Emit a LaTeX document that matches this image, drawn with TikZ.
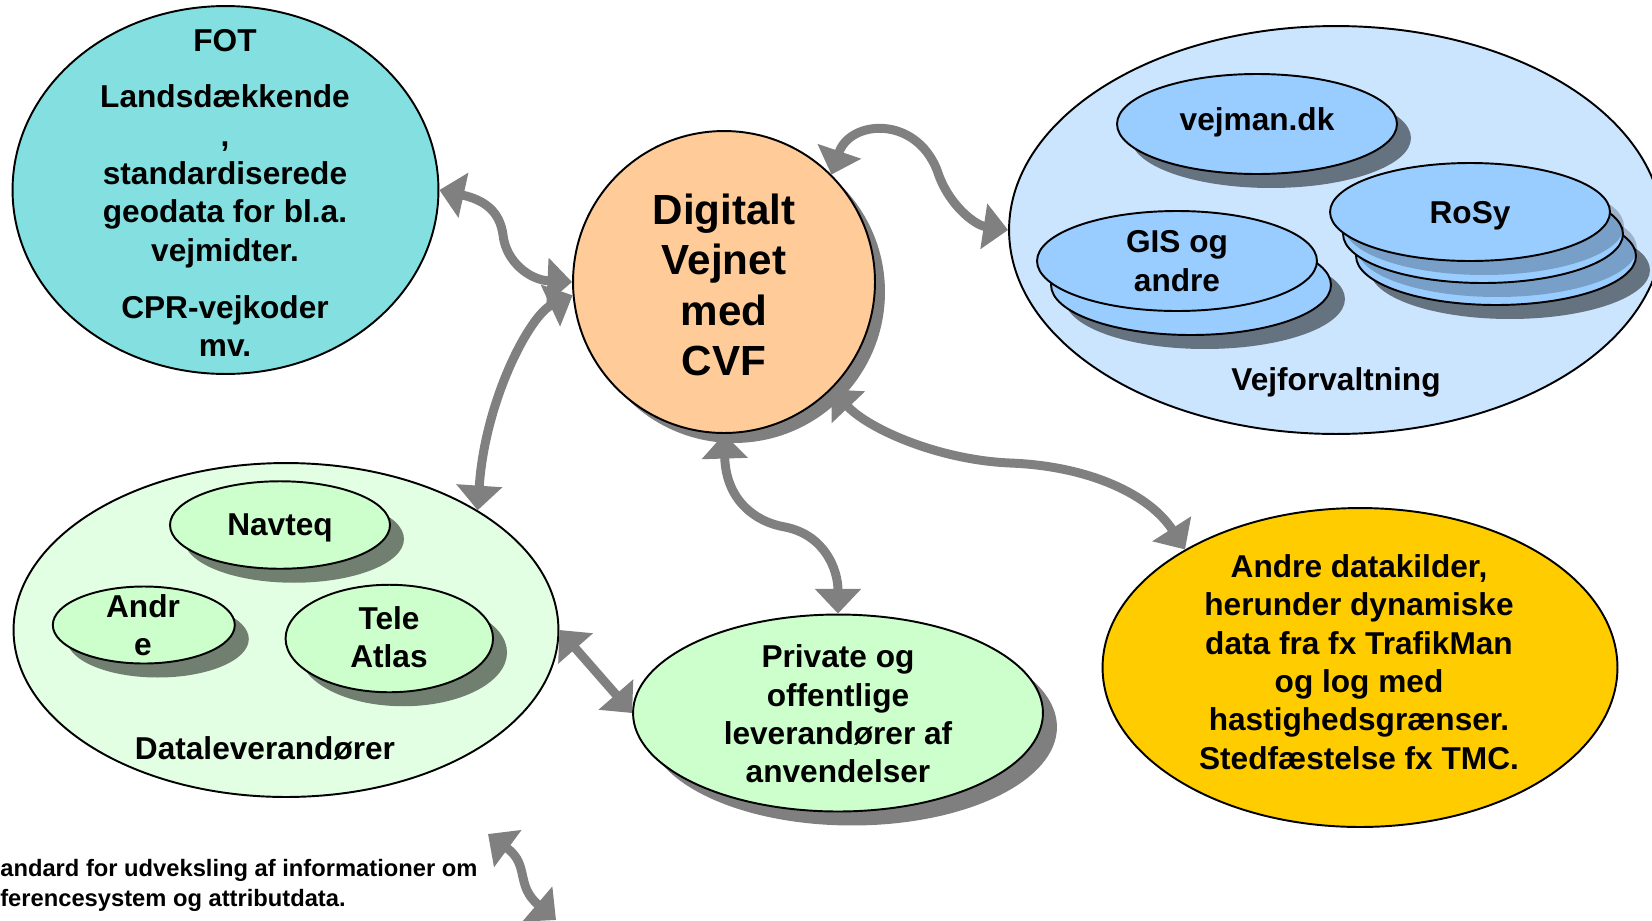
\documentclass[tikz,border=0pt]{standalone}
\usepackage{fontspec}
\setmainfont{Liberation Sans}
\usetikzlibrary{arrows.meta,shapes.geometric,shadows}
\definecolor{fotc}{RGB}{132,224,224}
\definecolor{dvc}{RGB}{255,204,153}
\definecolor{vfc}{RGB}{204,229,255}
\definecolor{bluec}{RGB}{153,204,255}
\definecolor{dlc}{RGB}{227,255,227}
\definecolor{greenc}{RGB}{204,255,204}
\definecolor{adc}{RGB}{255,204,0}
\definecolor{arrc}{RGB}{128,128,128}
\begin{document}
\begin{tikzpicture}[x=0.02cm,y=-0.02cm,
  oval/.style={ellipse, draw=black, line width=1.1pt, inner sep=0pt},
  shad/.style={drop shadow={shadow xshift=#1, shadow yshift=-#1, fill=black, opacity=0.5}},
  lightshad/.style={drop shadow={shadow xshift=#1, shadow yshift=-#1, fill=black, opacity=0.22}},
  conn/.style={draw=arrc, line width=5.1pt, {Triangle[length=14pt,width=25.5pt]}-{Triangle[length=14pt,width=25.5pt]}},
  lbl/.style={font=\bfseries\fontsize{18pt}{21.8pt}\selectfont, inner sep=0pt, align=center},
  fnote/.style={font=\bfseries\fontsize{13.5pt}{16.7pt}\selectfont, inner sep=0pt, anchor=base west}
]
\useasboundingbox (0,0) rectangle (1652,920);
\clip (0,0) rectangle (1652,920);

% large ellipses
\node[oval, fill=vfc, minimum width=13.08cm, minimum height=8.16cm] (vf) at (1336,230) {};
\node[oval, fill=dlc, minimum width=10.9cm, minimum height=6.68cm] (dl) at (286,630) {};
\node[oval, fill=fotc, minimum width=8.52cm, minimum height=7.36cm] (fot) at (225.5,190) {};
\node[oval, fill=dvc, shad=0.2cm, minimum width=6.04cm, minimum height=6.04cm] (dv) at (724,282) {};
\node[oval, fill=greenc, shad=0.28cm, minimum width=8.2cm, minimum height=3.94cm] (pv) at (838,713) {};
\node[oval, fill=adc, minimum width=10.3cm, minimum height=6.38cm] (ad) at (1360,667.5) {};

% stacks inside Vejforvaltning
\node[oval, fill=bluec, shad=0.28cm, minimum width=5.6cm, minimum height=1.96cm] (rosy3) at (1496,256) {};
\node[oval, fill=bluec, lightshad=0.28cm, minimum width=5.6cm, minimum height=1.96cm] (rosy2) at (1483,234) {};
\node[oval, fill=bluec, lightshad=0.28cm, minimum width=5.6cm, minimum height=1.96cm] (rosy) at (1470,212) {};
\node[oval, fill=bluec, shad=0.28cm, minimum width=5.6cm, minimum height=2cm] (gis2) at (1191,285) {};
\node[oval, fill=bluec, minimum width=5.6cm, minimum height=2cm] (gis) at (1177,261) {};
\node[oval, fill=bluec, shad=0.28cm, minimum width=5.6cm, minimum height=2cm] (vejman) at (1257,124) {};

% inside Dataleverandoerer
\node[oval, fill=greenc, shad=0.28cm, minimum width=4.4cm, minimum height=1.75cm] (navteq) at (280,525) {};
\node[oval, fill=greenc, shad=0.28cm, minimum width=3.64cm, minimum height=1.54cm] (andre) at (143.8,625) {};
\node[oval, fill=greenc, shad=0.28cm, minimum width=4.15cm, minimum height=2.15cm] (tele) at (389.3,638.5) {};

% texts
\node[lbl, anchor=base] (vejmant) at (1257,130) {vejman.dk};
\node[lbl, anchor=base] (rosyt) at (1470,223) {RoSy};
\node[lbl] (gist) at (1177,261) {GIS og\\andre};
\node[lbl, anchor=base] (vft) at (1336,390) {Vejforvaltning};
\node[lbl, anchor=base] (navteqt) at (280,535) {Navteq};
\node[lbl] (andret) at (143,625) {Andr\\e};
\node[lbl] (telet) at (389,637) {Tele\\Atlas};
\node[lbl, anchor=base] (dlt) at (265,759) {Dataleverandører};
\node[lbl] (fott) at (225,193) {FOT\\[10.5pt]Landsdækkende\\,\\standardiserede\\geodata for bl.a.\\vejmidter.\\[11pt]CPR-vejkoder\\mv.};
\node[lbl, font=\bfseries\fontsize{24pt}{28.7pt}\selectfont] (dvt) at (724,285) {Digitalt\\Vejnet\\med\\CVF};
\node[lbl] (pvt) at (838,714) {Private og\\offentlige\\leverandører af\\anvendelser};
\node[lbl] (adt) at (1359,662) {Andre datakilder,\\herunder dynamiske\\data fra fx TrafikMan\\og log med\\hastighedsgrænser.\\Stedfæstelse fx TMC.};
\node[fnote] (fn1) at (0,876) {andard for udveksling af informationer om};
\node[fnote] (fn2) at (0,906) {ferencesystem og attributdata.};

% connectors
\draw[conn] (fot.east) .. controls (485,200) and (500,212) .. (503,235) .. controls (506,262) and (530,280) .. (dv.west);
\draw[conn] (dv.185) .. controls (530,315) and (485,400) .. (dl.32);
\draw[conn] (dv.45) .. controls (850,120) and (915,115) .. (937,170) .. controls (948,205) and (975,225) .. (vf.west);
\draw[conn] (dv.-45) .. controls (870,430) and (940,460) .. (1010,463) .. controls (1090,466) and (1150,495) .. (ad.146);
\draw[conn] (dv.south) .. controls (726,500) and (755,522) .. (785,527) .. controls (825,535) and (838,570) .. (pv.north);
\draw[conn] (dl.east) -- (pv.west);
\coordinate (lg1) at (488,834);
\coordinate (lg2) at (556,920);
\draw[conn] (lg1) .. controls (530,865) and (515,885) .. (lg2);
\end{tikzpicture}
\end{document}
